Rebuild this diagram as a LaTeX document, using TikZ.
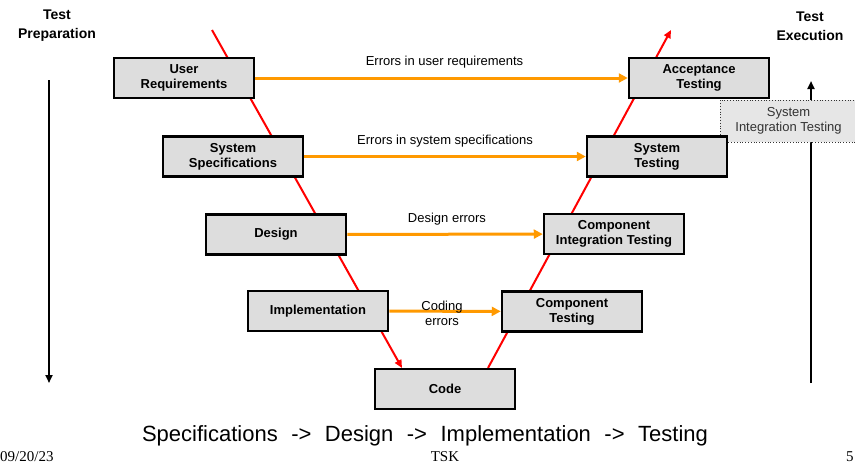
\documentclass[tikz,border=0pt]{standalone}
\usepackage{fontspec}
\setmainfont{Liberation Sans}
\newfontfamily\footfont{Liberation Serif}
\usetikzlibrary{arrows.meta}
\definecolor{boxgray}{HTML}{DDDDDD}
\definecolor{sitgray}{HTML}{E6E6E6}
\definecolor{errorange}{HTML}{FF9900}
\definecolor{vred}{HTML}{FF0000}
\tikzset{
  phase/.style={draw=black, line width=2.5pt, fill=boxgray, minimum width=140pt, minimum height=40pt,
    inner sep=0pt, align=center, font=\bfseries\fontsize{13}{15}\selectfont},
  sitbox/.style={draw=black!80, dotted, line width=0.8pt, fill=sitgray, minimum width=137pt, minimum height=42pt,
    inner sep=0pt, align=center, text=black!80, font=\fontsize{13}{15}\selectfont},
  vline/.style={draw=vred, line width=2pt, -{Triangle[length=8pt,width=7pt]}},
  errarrow/.style={draw=errorange, line width=3pt, -{Triangle[length=9pt,width=9pt]}},
  errlabel/.style={font=\fontsize{13}{15}\selectfont, align=center, inner sep=0pt},
  sidearrow/.style={draw=black, line width=2pt, -{Triangle[length=8pt,width=7pt]}},
  sidetitle/.style={font=\bfseries\fontsize{14}{19}\selectfont, align=center, inner sep=0pt},
  foot/.style={font=\footfont\fontsize{15}{16}\selectfont, inner sep=0pt}
}
\begin{document}
\begin{tikzpicture}[x=1pt,y=-1pt]
\useasboundingbox (0,0) rectangle (855,464);

% V-model red lines
\coordinate (vtopL) at (212,30);
\coordinate (vbotL) at (402,368);
\coordinate (vbotR) at (488,368);
\coordinate (vtopR) at (671,30);
\draw[vline] (vtopL) -- (vbotL);
\draw[vline] (vbotR) -- (vtopR);

% side titles and arrows
\node[sidetitle] (prep) at (57,26) {Test\\Preparation};
\node[sidetitle] (exec) at (810,26) {Test\\Execution};
\coordinate (prepS) at (49,80);
\coordinate (prepE) at (49,383);
\coordinate (execS) at (811,383);
\coordinate (execE) at (811,81);
\draw[sidearrow] (prepS) -- (prepE);
\draw[sidearrow] (execS) -- (execE);

% system integration testing box
\node[sitbox] (sit) at (788.5,121) {System\\Integration Testing};

% phase boxes
\node[phase] (ur)   at (184,78)    {User\\Requirements};
\node[phase] (ss)   at (233,156.5) {System\\Specifications};
\node[phase] (des)  at (276,234.5) {Design};
\node[phase] (imp)  at (318,311)   {Implementation};
\node[phase] (code) at (445,389)   {Code};
\node[phase] (ct)   at (572,311.5) {Component\\Testing};
\node[phase] (cit)  at (614,234)   {Component\\Integration Testing};
\node[phase] (st)   at (657,156.5) {System\\Testing};
\node[phase] (at)   at (699,78)    {Acceptance\\Testing};

% error arrows
\draw[errarrow] (ur) -- node[errlabel, above=8pt, xshift=3pt] {Errors in user requirements} (at);
\draw[errarrow] (ss) -- node[errlabel, above=8pt] {Errors in system specifications} (st);
\draw[errarrow] (des) -- node[errlabel, above=8pt, xshift=2pt] {Design errors} (cit);
\draw[errarrow] (imp) -- node[errlabel, xshift=-3pt, yshift=-2pt] {Coding\\errors} (ct);

% bottom caption and footer
\node[inner sep=0pt, font=\fontsize{22}{24}\selectfont] (caption) at (425,436)
  {Specifications\hspace{13.5pt}->\hspace{13.5pt}Design\hspace{13.5pt}->\hspace{13.5pt}Implementation\hspace{13.5pt}->\hspace{13.5pt}Testing};
\node[foot, anchor=base west] (date) at (0,461) {09/20/23};
\node[foot, anchor=base] (tsk) at (445,461) {TSK};
\node[foot, anchor=base west] (page) at (846,461) {5};
\end{tikzpicture}
\end{document}
